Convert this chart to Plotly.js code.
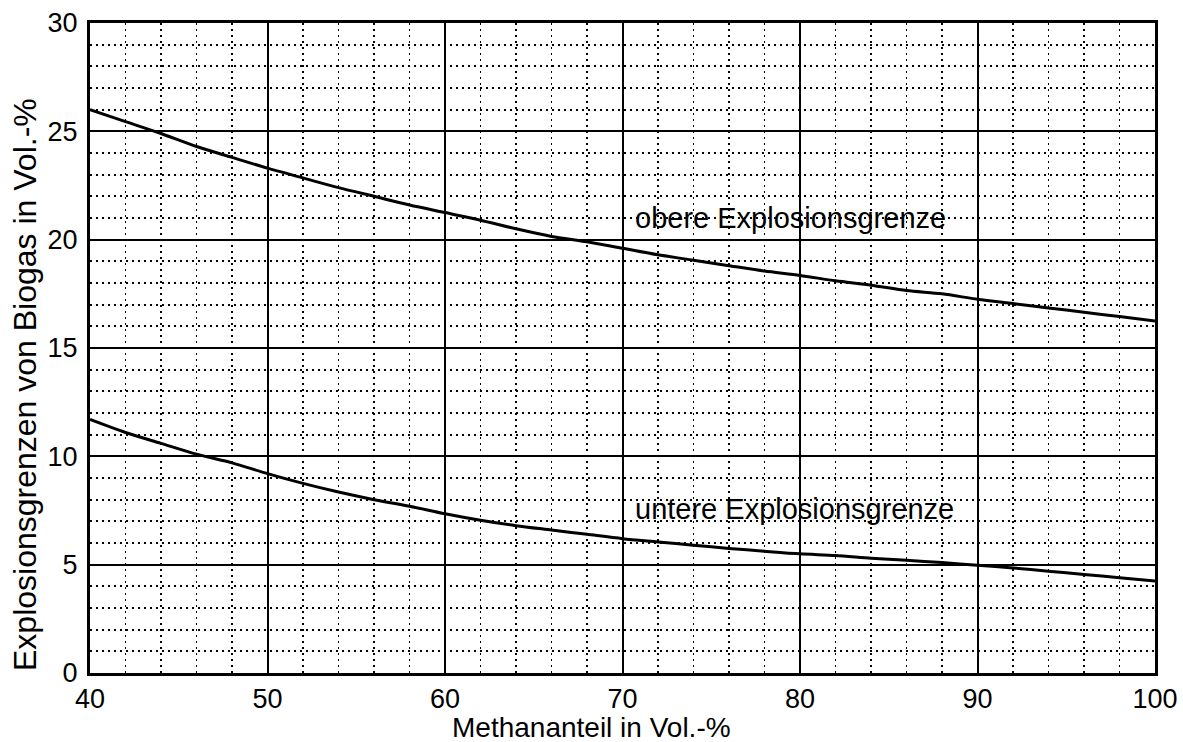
<!DOCTYPE html>
<html>
<head>
<meta charset="utf-8">
<script src="https://cdn.plot.ly/plotly-3.0.1.min.js"></script>
<style>html,body{margin:0;padding:0;background:#fff;}#chart{width:1183px;height:742px;}</style>
</head>
<body>
<div id="chart"></div>
<script>
// Methane content (x) in Vol.-%
const methane = [40, 42, 44, 46, 48, 50, 52, 54, 56, 58, 60, 62, 64, 66, 68, 70, 72, 74, 76, 78, 80, 82, 84, 86, 88, 90, 92, 94, 96, 98, 100];
// Upper explosion limit of biogas (Vol.-%)
const upperLimit = [26.0, 25.45, 24.9, 24.3, 23.8, 23.3, 22.85, 22.4, 22.0, 21.6, 21.25, 20.9, 20.5, 20.15, 19.9, 19.6, 19.3, 19.05, 18.8, 18.55, 18.35, 18.1, 17.9, 17.65, 17.5, 17.25, 17.05, 16.85, 16.65, 16.45, 16.25];
// Lower explosion limit of biogas (Vol.-%)
const lowerLimit = [11.7, 11.1, 10.6, 10.1, 9.7, 9.2, 8.75, 8.35, 8.0, 7.7, 7.35, 7.05, 6.8, 6.6, 6.4, 6.2, 6.05, 5.9, 5.75, 5.62, 5.5, 5.42, 5.3, 5.2, 5.1, 4.97, 4.85, 4.7, 4.55, 4.4, 4.25];

const curveLabels = ["obere Explosionsgrenze", "untere Explosionsgrenze"];
const xTitle = "Methananteil in Vol.-%";
const yTitle = "Explosionsgrenzen von Biogas in Vol.-%";

const font = {family: "Liberation Sans, Arial, sans-serif", color: "#000"};

const traces = [
  {x: methane, y: upperLimit, mode: "lines", line: {color: "#000", width: 3, shape: "spline", smoothing: 0.8}, hoverinfo: "skip"},
  {x: methane, y: lowerLimit, mode: "lines", line: {color: "#000", width: 3, shape: "spline", smoothing: 0.8}, hoverinfo: "skip"}
];

const layout = {
  width: 1183, height: 742,
  margin: {l: 90, r: 28, t: 23, b: 69},
  paper_bgcolor: "#fff", plot_bgcolor: "#fff",
  showlegend: false,
  font: Object.assign({size: 27}, font),
  xaxis: {
    range: [40, 100], dtick: 10, tick0: 40,
    showgrid: true, gridcolor: "#000", gridwidth: 2,
    minor: {dtick: 2, showgrid: true, gridcolor: "#000", gridwidth: 1.8, griddash: "2px,4px", ticks: ""},
    showline: true, linecolor: "#000", linewidth: 3, mirror: true,
    ticks: "", zeroline: false,
    tickfont: Object.assign({size: 27}, font)
  },
  yaxis: {
    range: [0, 30], dtick: 5, tick0: 0,
    showgrid: true, gridcolor: "#000", gridwidth: 2,
    minor: {dtick: 1, showgrid: true, gridcolor: "#000", gridwidth: 1.8, griddash: "2px,4px", ticks: ""},
    showline: true, linecolor: "#000", linewidth: 3, mirror: true,
    ticks: "", zeroline: false, ticklabelstandoff: 4,
    tickfont: Object.assign({size: 27}, font)
  },
  annotations: [
    {x: 70.6, y: 21.0, xref: "x", yref: "y", text: curveLabels[0], showarrow: false, xanchor: "left", yanchor: "middle", font: Object.assign({size: 29}, font)},
    {x: 70.6, y: 7.55, xref: "x", yref: "y", text: curveLabels[1], showarrow: false, xanchor: "left", yanchor: "middle", font: Object.assign({size: 29}, font)}
  ]
};
// Position titles in pixel space via paper coordinates
const plotW = 1183 - 90 - 28, plotH = 742 - 23 - 69;
layout.annotations.push({
  x: (591 - 90) / plotW, y: -(727 - 673) / plotH, xref: "paper", yref: "paper",
  text: xTitle, showarrow: false, xanchor: "center", yanchor: "middle",
  font: Object.assign({size: 28}, font)
});
layout.annotations.push({
  x: (25 - 90) / plotW, y: (673 - 385) / plotH, xref: "paper", yref: "paper",
  text: yTitle, textangle: -90, showarrow: false, xanchor: "center", yanchor: "middle",
  font: Object.assign({size: 32}, font)
});

Plotly.newPlot("chart", traces, layout, {displayModeBar: false, staticPlot: true});
</script>
</body>
</html>
